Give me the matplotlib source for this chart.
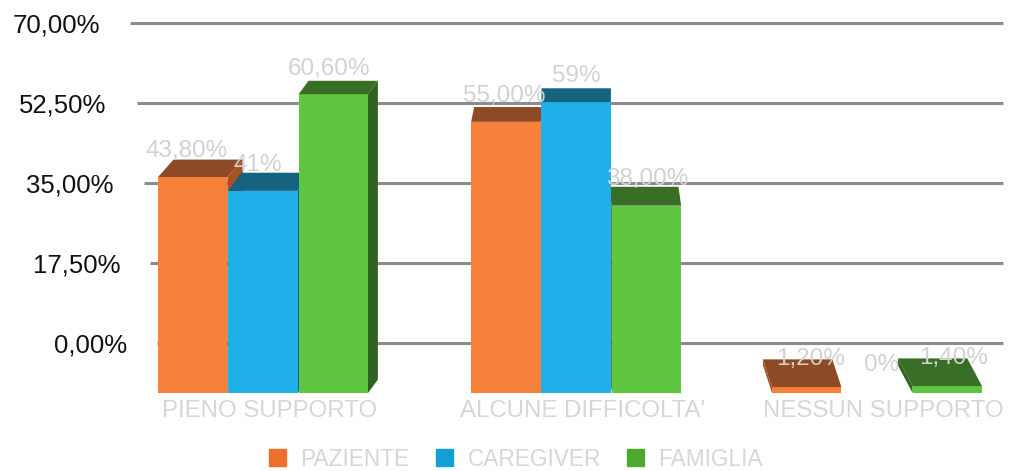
import matplotlib
matplotlib.use("Agg")
import matplotlib.pyplot as plt
from matplotlib.patches import Polygon, Rectangle
import matplotlib.transforms as mtransforms

plt.rcParams['font.family'] = ['Liberation Sans', 'DejaVu Sans']

# ---------------- data ----------------
categories = ["PIENO SUPPORTO", "ALCUNE DIFFICOLTA'", "NESSUN SUPPORTO"]
series = ["PAZIENTE", "CAREGIVER", "FAMIGLIA"]
paziente = [43.8, 55.0, 1.2]
caregiver = [41.0, 59.0, 0.0]
famiglia = [60.6, 38.0, 1.4]
paziente_labels = ["43,80%", "55,00%", "1,20%"]
caregiver_labels = ["41%", "59%", "0%"]
famiglia_labels = ["60,60%", "38,00%", "1,40%"]
ytick_values = [0, 17.5, 35, 52.5, 70]
ytick_labels = ["0,00%", "17,50%", "35,00%", "52,50%", "70,00%"]

# ---------------- styles ----------------
front_colors = ["#F7813B", "#1FB0EA", "#5FC73F"]
cap_colors = ["#8E4A25", "#16637F", "#386E25"]
side_colors = ["#A9521F", "#125E7C", "#2F6220"]
legend_colors = ["#EE6E2E", "#129FD8", "#4DAA2E"]
label_gray = "#D2D2D2"
grid_gray = "#8C8C8C"

W, H, DPI = 1015, 471, 100
fig = plt.figure(figsize=(W / DPI, H / DPI), dpi=DPI)
ax_l, ax_r, ax_t, ax_b = 128, 1003, 23, 393
ax = fig.add_axes([ax_l / W, 1 - ax_b / H, (ax_r - ax_l) / W, (ax_b - ax_t) / H])

px_per_x = 307.0
x0_px = 263.0
group_pos = [0.0, 1.02, 2.0]   # slight perspective spacing of the groups
ax.set_xlim(-(x0_px - ax_l) / px_per_x, 2 + (ax_r - (x0_px + 2 * px_per_x)) / px_per_x)
grid_px_per_pct = (343 - 23) / 70.0
ax.set_ylim(70 - (ax_b - ax_t) / grid_px_per_pct, 70)
for s in ax.spines.values():
    s.set_visible(False)
ax.set_yticks([])
ax.set_xticks([g + 0.02 for g in group_pos])
ax.set_xticklabels(categories, fontsize=17.3, color="#D6D6D6")
ax.tick_params(axis='x', length=0, pad=5)

# gridlines and y labels (slight perspective)
blend = mtransforms.blended_transform_factory(fig.transFigure, ax.transData)
for v, lab in zip(ytick_values, ytick_labels):
    start_px = 157 - v / 70.0 * 27
    ax.plot([start_px / W, 1003 / W], [v, v], transform=blend, color=grid_gray,
            lw=2.2, clip_on=False, zorder=0, solid_capstyle='butt')
    ax.text((start_px - 30) / W, v - 0.6, lab, transform=blend, ha='right', va='center',
            fontsize=18.5, color="#111111")

# bars on an overlaid axis (3D floor below the 0 line)
ax2 = ax.twinx()
bar_px_per_pct = 4.93
ax2.set_ylim(0, (ax_b - ax_t) / bar_px_per_pct)
ax2.set_xlim(ax.get_xlim())
ax2.axis('off')

vanish_u = (580 - x0_px) / px_per_x
bar_w = 0.226
step = 0.229
values = [paziente, caregiver, famiglia]
labels = [paziente_labels, caregiver_labels, famiglia_labels]

for si, (vals, labs) in enumerate(zip(values, labels)):
    for ci, v in enumerate(vals):
        xc = group_pos[ci] + (si - 1) * step
        z = 5 - abs(xc - vanish_u)
        dx = (vanish_u - xc) * 0.04
        dy_px = 28 - 0.24 * v
        dy = dy_px / bar_px_per_pct
        xl, xr = xc - bar_w / 2, xc + bar_w / 2
        if v > 0:
            if dx > 0:
                side = [(xr, 0), (xr, v), (xr + dx, v + dy), (xr + dx, dy)]
            else:
                side = [(xl, 0), (xl, v), (xl + dx, v + dy), (xl + dx, dy)]
            ax2.add_patch(Polygon(side, closed=True, facecolor=side_colors[si],
                                  edgecolor='none', zorder=z))
            ax2.bar(xc, v, width=bar_w, color=front_colors[si], zorder=z + 0.01,
                    linewidth=0)
            cap = [(xl, v), (xr, v), (xr + dx, v + dy), (xl + dx, v + dy)]
            ax2.add_patch(Polygon(cap, closed=True, facecolor=cap_colors[si],
                                  edgecolor='none', zorder=z + 0.02))
        ax2.text(xc - dx * 0.4, v + (dy_px + 0.2 * v) / bar_px_per_pct, labs[ci],
                 ha='center', va='center', fontsize=17.5, color=label_gray, zorder=20)

handles = [Rectangle((0, 0), 1, 1, color=c) for c in legend_colors]
fig.legend(handles, series, loc='center', bbox_to_anchor=(516 / W, 1 - 459 / H), ncol=3,
           frameon=False, fontsize=16.3, handlelength=0.75, handleheight=0.75,
           handletextpad=0.65, columnspacing=1.15, labelcolor="#D6D6D6")

fig.savefig("out.png", dpi=DPI)
